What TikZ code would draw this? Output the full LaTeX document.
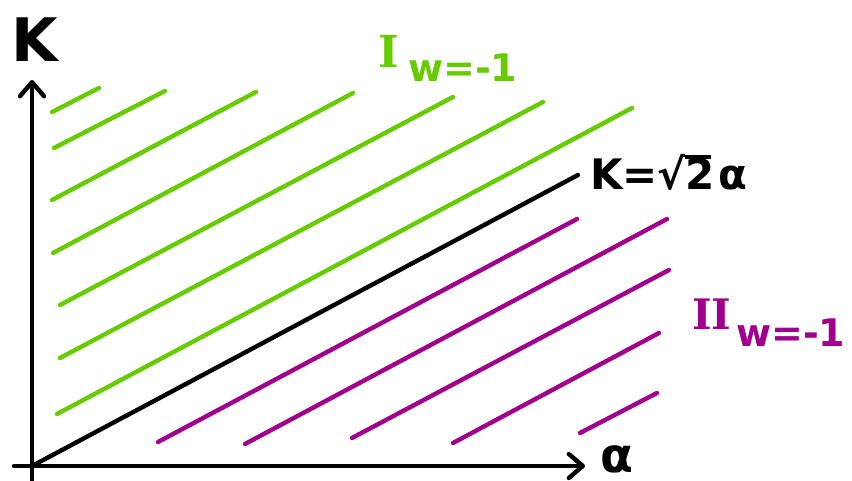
\documentclass[tikz,border=0pt]{standalone}
\usepackage{fontspec}
\setmainfont{DejaVu Sans}
\newfontfamily\romnum{DejaVu Serif}
\usetikzlibrary{arrows.meta}
\definecolor{lgreen}{RGB}{102,204,0}
\definecolor{lpurple}{RGB}{160,0,140}
\begin{document}
\begin{tikzpicture}[x=1pt,y=-1pt,
  stroke/.style={line width=4.4pt,line cap=round},
  axisline/.style={stroke,-{Straight Barb[length=14pt,width=24pt,round]}},
  hatchg/.style={stroke,draw=lgreen},
  hatchp/.style={stroke,draw=lpurple},
  lbl/.style={inner sep=0pt,anchor=base west,font=\bfseries}]
\useasboundingbox (0,0) rectangle (852,481);
% axes
\coordinate (O) at (32,466);
\coordinate (ybot) at (32,490);
\coordinate (ytop) at (32,80);
\coordinate (xleft) at (14,466);
\coordinate (xtip) at (585,466);
\draw[axisline] (ybot) -- (ytop);
\draw[axisline] (xleft) -- (xtip);
% boundary line
\coordinate (bend) at (578,175);
\draw[stroke] (O) -- (bend);
% green hatching
\foreach \a/\b/\c/\d [count=\i] in {52/112/99/88, 54/148/165/91, 52/200/256/92, 53/253/353/93, 60/305/453/97, 60/358/543/102, 57/414/632/108}{
  \coordinate (gs\i) at (\a,\b);
  \coordinate (ge\i) at (\c,\d);
  \draw[hatchg] (gs\i) -- (ge\i);
}
% purple hatching
\foreach \a/\b/\c/\d [count=\i] in {158/442/577/219, 245/444/667/219, 352/438/669/270, 453/443/659/333, 580/433/657/393}{
  \coordinate (ps\i) at (\a,\b);
  \coordinate (pe\i) at (\c,\d);
  \draw[hatchp] (ps\i) -- (pe\i);
}
% labels
\node[lbl] (Klab) at (11,62) {\fontsize{60}{60}\selectfont K};
\node[lbl] (alab) at (600,472) {\fontsize{48}{48}\selectfont α};
\node[lbl,text=lgreen] (Ione) at (378,68) {\romnum\bfseries\fontsize{44}{44}\selectfont I};
\node[lbl,text=lgreen] (Isub) at (408,82) {\fontsize{38}{38}\selectfont w=-1};
\node[lbl,text=lpurple] (IItwo) at (692,330) {\romnum\bfseries\fontsize{42}{42}\selectfont II};
\node[lbl,text=lpurple] (IIsub) at (736,346) {\fontsize{38}{38}\selectfont w=-1};
\node[lbl] (eq) at (590,190) {\fontsize{42}{42}\selectfont K=√\kern-0.02em\rlap{\rule[0.74em]{0.62em}{0.1em}}2\kern0.1emα};
\end{tikzpicture}
\end{document}
